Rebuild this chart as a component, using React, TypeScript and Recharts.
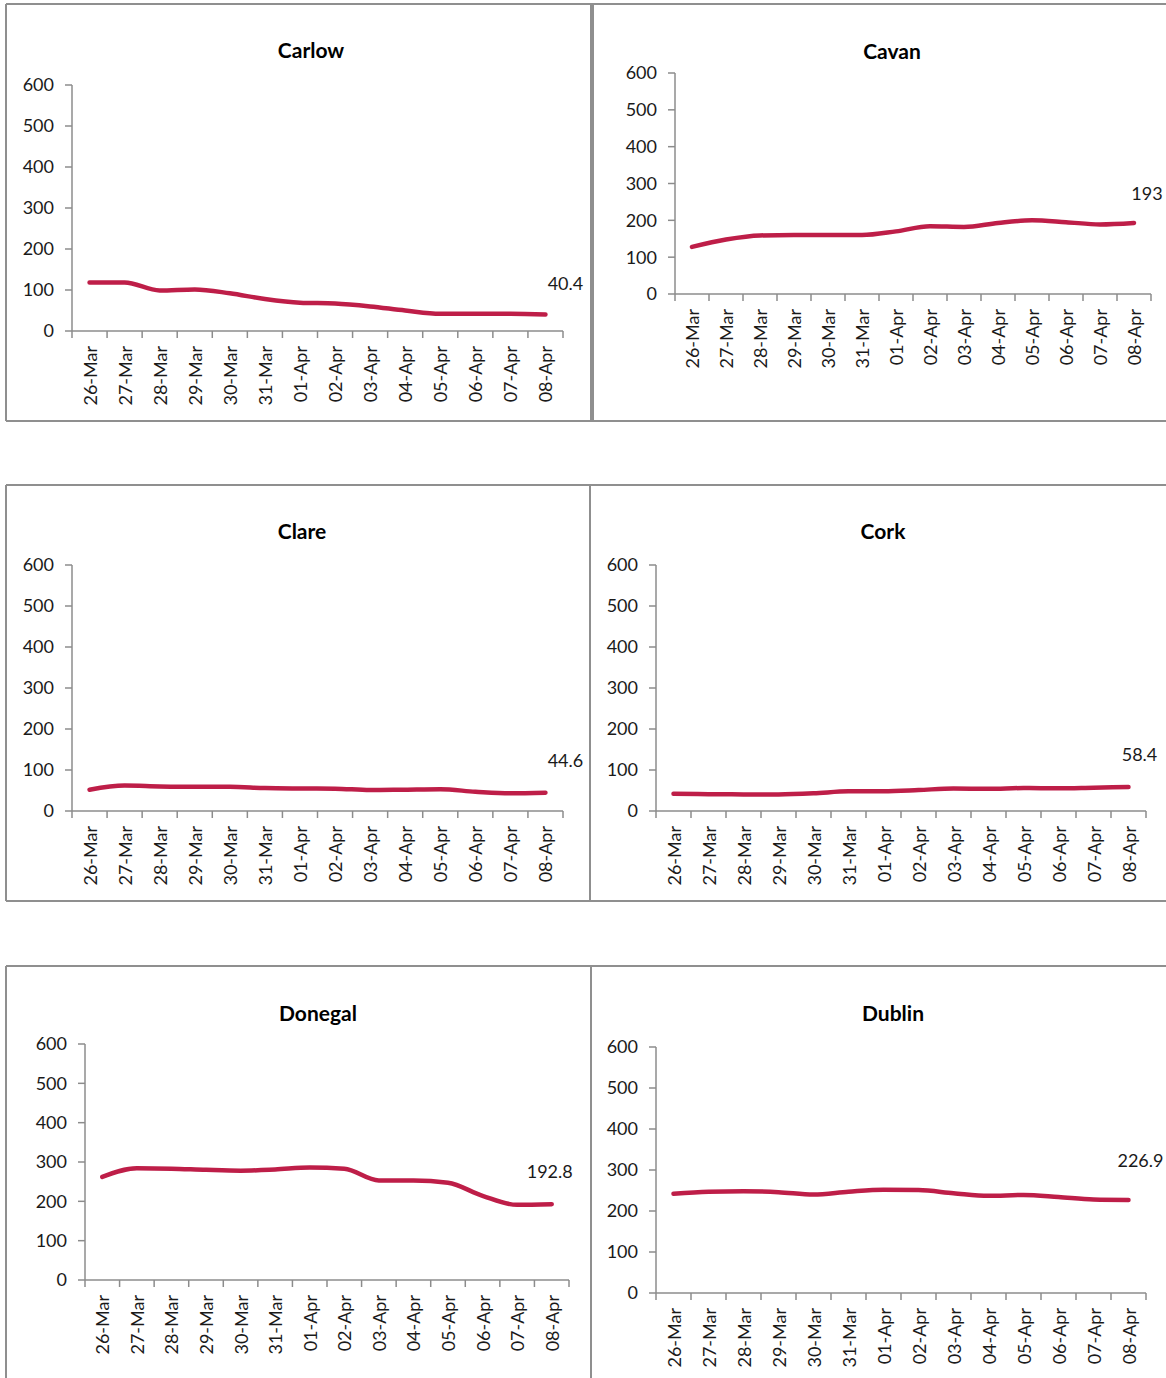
import { LineChart, Line, XAxis, YAxis } from 'recharts'

// ─── data ─────────────────────────────────────────────────────────────

const DAYS = [
  '26-Mar', '27-Mar', '28-Mar', '29-Mar', '30-Mar', '31-Mar', '01-Apr',
  '02-Apr', '03-Apr', '04-Apr', '05-Apr', '06-Apr', '07-Apr', '08-Apr',
]
const Y_TICKS = [0, 100, 200, 300, 400, 500, 600]

const CARLOW  = [118.5, 118.5, 99, 101.5, 92, 78, 69, 67, 60, 50, 42, 42, 42, 40.4]
const CAVAN   = [128, 148, 159, 160, 160, 160, 170, 184, 182, 193, 200, 195, 189, 193]
const CLARE   = [52, 62, 60, 59, 59, 56, 55, 54.5, 51, 52, 53, 47, 43, 44.6]
const CORK    = [42, 41, 40.5, 40.5, 43, 48, 48, 51, 55, 54, 56, 55.5, 57, 58.4]
const DONEGAL = [262, 284, 283, 280, 278, 281, 286, 283, 253, 253, 247, 214, 191, 192.8]
const DUBLIN  = [242, 247, 248, 246, 240, 247, 252, 251, 243.5, 237, 239, 234, 228, 226.9]

// ─── layout ───────────────────────────────────────────────────────────

const LINE = '#be1e48'
const AXIS = '#8c8c8c'
const INK = '#1a1a1a'
const FONT = 'Lato, "Open Sans", sans-serif'

const Y_W = 60     // room for y tick labels
const X_H = 80     // room for rotated day labels
const PAD_T = 12
const PAD_R = 40

// plot box in page coords (x of y-axis, x end of x-axis, y of 600, y of 0)
const PANELS = [
  { name: 'Carlow',  values: CARLOW,  l: 72,  r: 563,  t: 85,   b: 331,  tx: 311, ty: 50,   dx: 20, dy: -31 },
  { name: 'Cavan',   values: CAVAN,   l: 675, r: 1151, t: 73,   b: 294,  tx: 892, ty: 51,   dx: 13, dy: -30 },
  { name: 'Clare',   values: CLARE,   l: 72,  r: 563,  t: 565,  b: 811,  tx: 302, ty: 531,  dx: 20, dy: -33 },
  { name: 'Cork',    values: CORK,    l: 656, r: 1146, t: 565,  b: 811,  tx: 883, ty: 531,  dx: 11, dy: -33 },
  { name: 'Donegal', values: DONEGAL, l: 85,  r: 569,  t: 1044, b: 1280, tx: 318, ty: 1013, dx: -2, dy: -33 },
  { name: 'Dublin',  values: DUBLIN,  l: 656, r: 1146, t: 1047, b: 1293, tx: 893, ty: 1013, dx: 12, dy: -40 },
]

// frame lines in page coords
const H_RULES = [
  { y: 4, x1: 6, x2: 1166 }, { y: 421, x1: 6, x2: 1166 },
  { y: 485, x1: 6, x2: 1166 }, { y: 901, x1: 6, x2: 1166 },
  { y: 966, x1: 6, x2: 1166 },
]
const V_RULES = [
  { x: 6, y1: 4, y2: 421 }, { x: 591, y1: 4, y2: 421 }, { x: 593, y1: 4, y2: 421 },
  { x: 6, y1: 485, y2: 901 }, { x: 590, y1: 485, y2: 901 },
  { x: 6, y1: 966, y2: 1378 }, { x: 591, y1: 966, y2: 1378 },
]

// ─── helpers ──────────────────────────────────────────────────────────

// integer positions = tick marks between days, half positions = day labels
const X_TICKS = Array.from({ length: DAYS.length * 2 + 1 }, (_, i) => i / 2)

function DayTick({ x, y, payload }: { x?: number; y?: number; payload?: { value: number } }) {
  const v = payload?.value ?? 0
  if (x == null || y == null) return null
  if (Number.isInteger(v)) {
    return <line x1={x} x2={x} y1={y} y2={y + 7} stroke={AXIS} strokeWidth={1.5} />
  }
  const ly = y + 15
  return (
    <text
      x={x} y={ly}
      transform={`rotate(-90 ${x} ${ly})`}
      textAnchor="end" dominantBaseline="central"
      fontSize={18} fill={INK} fontFamily={FONT}
    >
      {DAYS[Math.floor(v)]}
    </text>
  )
}

function Panel({ p }: { p: (typeof PANELS)[number] }) {
  const data = p.values.map((v, i) => ({ x: i + 0.5, v }))
  const last = data.length - 1
  const width = p.r - p.l + Y_W + PAD_R
  const height = p.b - p.t + PAD_T + X_H

  const EndLabel = (props: { x?: number; y?: number; index?: number; value?: number }) => {
    if (props.index !== last || props.x == null || props.y == null) return null
    return (
      <text
        x={props.x + p.dx} y={props.y + p.dy}
        textAnchor="middle" dominantBaseline="central"
        fontSize={18} fill={INK} fontFamily={FONT}
      >
        {props.value}
      </text>
    )
  }

  return (
    <>
      <div style={{
        position: 'absolute', left: p.tx - 100, width: 200, top: p.ty - 14,
        textAlign: 'center', fontFamily: FONT, fontWeight: 700, fontSize: 21,
        lineHeight: '28px', color: '#000',
      }}>
        {p.name}
      </div>
      <div style={{ position: 'absolute', left: p.l - Y_W, top: p.t - PAD_T }}>
        <LineChart
          width={width} height={height} data={data}
          margin={{ top: PAD_T, right: PAD_R, bottom: 0, left: 0 }}
        >
          <XAxis
            dataKey="x" type="number" domain={[0, DAYS.length]} ticks={X_TICKS}
            interval={0} height={X_H} tickSize={0} tickMargin={0} tickLine={false}
            axisLine={{ stroke: AXIS, strokeWidth: 1.5 }} tick={<DayTick />}
          />
          <YAxis
            type="number" domain={[0, 600]} ticks={Y_TICKS} interval={0} width={Y_W}
            tickSize={7} tickMargin={11}
            axisLine={{ stroke: AXIS, strokeWidth: 1.5 }} tickLine={{ stroke: AXIS, strokeWidth: 1.5 }}
            tick={{ fontSize: 18, fill: INK, fontFamily: FONT }}
          />
          <Line
            type="monotone" dataKey="v" stroke={LINE} strokeWidth={4.5}
            strokeLinecap="round" strokeLinejoin="round"
            dot={false} activeDot={false} isAnimationActive={false}
            label={<EndLabel />}
          />
        </LineChart>
      </div>
    </>
  )
}

export default function App() {
  return (
    <div style={{ position: 'relative', width: 1166, height: 1378, background: '#fff', overflow: 'hidden' }}>
      <style>{'body{margin:0}'}</style>
      <svg width={1166} height={1378} style={{ position: 'absolute', left: 0, top: 0 }}>
        {H_RULES.map((h, i) => (
          <line key={`h${i}`} x1={h.x1} x2={h.x2} y1={h.y} y2={h.y} stroke="#8f8f8f" strokeWidth={2} />
        ))}
        {V_RULES.map((v, i) => (
          <line key={`v${i}`} x1={v.x} x2={v.x} y1={v.y1} y2={v.y2} stroke="#8f8f8f" strokeWidth={2} />
        ))}
      </svg>
      {PANELS.map((p) => <Panel key={p.name} p={p} />)}
    </div>
  )
}
